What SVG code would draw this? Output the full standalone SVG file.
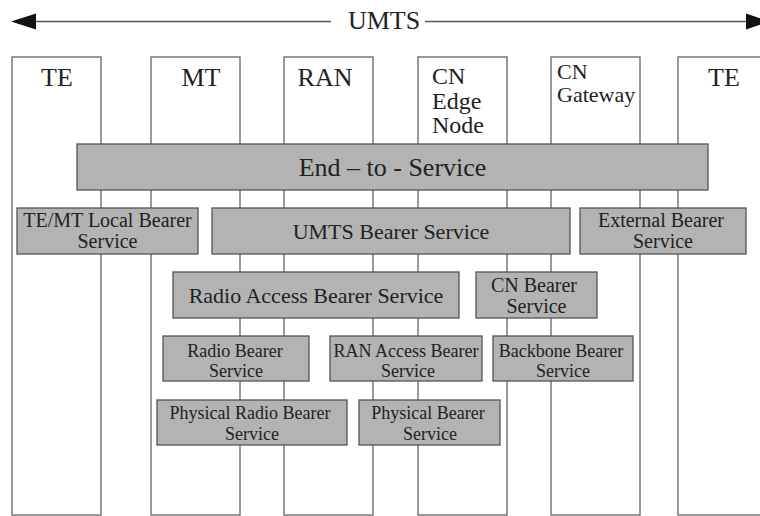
<svg xmlns="http://www.w3.org/2000/svg" width="760" height="516" viewBox="0 0 760 516">
<style>
text{font-family:"Liberation Serif","DejaVu Serif",serif;fill:#222;}
.col{fill:#fff;stroke:#6e6e6e;stroke-width:1.4;}
.box{fill:#b3b3b3;stroke:#555;stroke-width:1.3;}
.lbl{font-size:26px;}
.lbs{font-size:24px;}
.lbg{font-size:22px;}
.t26{font-size:26px;text-anchor:middle;}
.t22{font-size:22px;text-anchor:middle;}
.t20{font-size:20px;text-anchor:middle;}
.t18{font-size:18px;text-anchor:middle;}
.arr{stroke:#555;stroke-width:1.4;fill:none;}
.head{fill:#111;}
</style>
<rect width="760" height="516" fill="#fff"/>
<g id="connectors">
<line class="arr" x1="34" y1="21.5" x2="331" y2="21.5"/>
<line class="arr" x1="425" y1="21.5" x2="749" y2="21.5"/>
<polygon class="head" points="11,21.5 36,13.5 36,29.5"/>
<polygon class="head" points="770,21.5 746,13.5 746,29.5"/>
</g>
<text x="384" y="29" class="t26">UMTS</text>
<g id="col-te1"><rect class="col" x="12" y="57" width="89" height="458"/><text class="lbl" x="57" y="86" text-anchor="middle">TE</text></g>
<g id="col-mt"><rect class="col" x="151" y="57" width="89" height="458"/><text class="lbl" x="201" y="86" text-anchor="middle">MT</text></g>
<g id="col-ran"><rect class="col" x="284" y="57" width="89" height="458"/><text class="lbl" x="325" y="86" text-anchor="middle">RAN</text></g>
<g id="col-cnedge"><rect class="col" x="418" y="57" width="89" height="458"/><text class="lbs" x="432" y="84">CN</text><text class="lbs" x="432" y="109">Edge</text><text class="lbs" x="432" y="133">Node</text></g>
<g id="col-cngw"><rect class="col" x="551" y="57" width="89" height="458"/><text class="lbg" x="557" y="79">CN</text><text class="lbg" x="557" y="102">Gateway</text></g>
<g id="col-te2"><rect class="col" x="678" y="57" width="100" height="458"/><text class="lbl" x="724" y="86" text-anchor="middle">TE</text></g>

<g id="end-to-service"><rect class="box" x="77" y="144" width="631" height="46"/><text class="t26" x="392.5" y="176">End – to - Service</text></g>
<g id="temt-local"><rect class="box" x="17" y="208" width="181" height="46"/><text class="t20" x="107.5" y="227">TE/MT Local Bearer</text><text class="t20" x="107.5" y="248">Service</text></g>
<g id="umts-bearer"><rect class="box" x="212" y="208" width="358" height="46"/><text class="t22" x="391" y="239">UMTS Bearer Service</text></g>
<g id="external-bearer"><rect class="box" x="580" y="208" width="166" height="46"/><text class="t20" x="661" y="227">External Bearer</text><text class="t20" x="663" y="248">Service</text></g>
<g id="radio-access-bearer"><rect class="box" x="173" y="272" width="286" height="46"/><text class="t22" x="316" y="303">Radio Access Bearer Service</text></g>
<g id="cn-bearer"><rect class="box" x="476" y="272" width="121" height="46"/><text class="t20" x="534" y="292">CN Bearer</text><text class="t20" x="536.5" y="313">Service</text></g>
<g id="radio-bearer"><rect class="box" x="163" y="336" width="146" height="45"/><text class="t18" x="235" y="357">Radio Bearer</text><text class="t18" x="236" y="377">Service</text></g>
<g id="ran-access-bearer"><rect class="box" x="330" y="336" width="152" height="45"/><text class="t18" x="406" y="357">RAN Access Bearer</text><text class="t18" x="408" y="377">Service</text></g>
<g id="backbone-bearer"><rect class="box" x="493" y="336" width="140" height="45"/><text class="t18" x="561" y="357">Backbone Bearer</text><text class="t18" x="563" y="377">Service</text></g>
<g id="physical-radio-bearer"><rect class="box" x="157" y="400" width="190" height="45"/><text class="t18" x="250" y="419">Physical Radio Bearer</text><text class="t18" x="252" y="440">Service</text></g>
<g id="physical-bearer"><rect class="box" x="359" y="400" width="141" height="45"/><text class="t18" x="428" y="419">Physical Bearer</text><text class="t18" x="430" y="440">Service</text></g>
</svg>
